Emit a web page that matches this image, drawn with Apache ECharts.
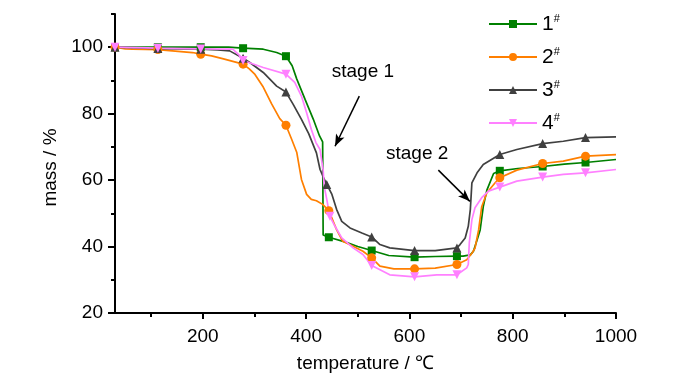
<!DOCTYPE html>
<html><head><meta charset="utf-8">
<script src="https://cdn.jsdelivr.net/npm/echarts@6/dist/echarts.min.js"></script>
<style>html,body{margin:0;padding:0;background:#fff}#c{width:700px;height:373px}</style>
</head><body><div id="c"></div>
<script>
const seriesNames = ['1#', '2#', '3#', '4#'];
const markerTemps = [30, 113, 196, 278, 361, 444, 527, 610, 692, 775, 858, 941];

const temp1 = [30,113,196,250,278,317,343,361,373,382,398,414,426,432,433,444,475,500,527,560,610,650,692,704,718,724,731,737,743,750,763,775,810,858,900,941,1000];
const mass1 = [100,100,100,100,99.7,99.4,98.4,97.3,94.4,90.4,84.3,78.3,73.3,71.5,43.5,42.8,41.4,40,38.8,37.3,36.8,37,37.1,37.1,37.5,38.6,42,45,52,57,62,62.8,63.5,64.1,64.8,65.3,66.2];

const temp2 = [30,50,64,113,180,196,217,240,278,290,301,317,333,349,361,372,382,391,401,410,420,432,444,459,471,491,510,527,543,570,610,650,692,711,721,727,734,740,750,766,775,808,858,898,941,1000];
const mass2 = [100,99.5,99.4,99.3,98.4,97.9,97.4,96.5,94.9,93.5,91.8,88,83,78.5,76.5,72.3,68.3,60.2,55.7,54.2,53.8,52.7,50.8,45.1,41.6,40.1,38.6,36.6,34.1,33.3,33.3,33.5,34.6,36,38,39.5,45,52,56.2,59.2,60.7,63,65,65.7,67.2,67.7];

const temp3 = [30,113,196,229,252,278,291,317,343,361,375,391,405,420,427,433,440,450,459,469,485,508,527,543,562,610,650,692,698,708,714,718,721,731,743,775,808,858,898,941,1000];
const mass3 = [100,99.6,99.4,99.2,98.9,96.7,95.4,92.4,88.3,86.5,82.8,78.3,74,68.2,63.2,61,58.7,55.7,51.2,47.6,45.6,44.1,42.9,40.6,39.6,38.8,38.8,39.6,40.6,42.6,46.1,51.2,59.2,62.2,64.7,67.7,69.2,71,71.7,72.8,73];

const temp4 = [30,113,196,258,272,278,317,361,378,391,401,410,419,427,433,435,440,446,456,469,491,510,527,562,610,653,692,711,714,716,721,727,740,753,775,808,858,898,941,1000];
const mass4 = [100,99.7,99.5,99.4,97.4,96,93.9,91.9,89.4,85.3,80.3,75.3,71.3,69.2,63,58.2,54.2,49.1,46.1,42.6,39.6,37.6,34.3,31.5,30.9,31.5,31.5,33.6,34.6,41.2,48.1,51.7,54.7,56.7,57.9,59.7,60.9,61.7,62.2,63.2];

const xMajorTicks = [200, 400, 600, 800, 1000];
const xMinorTicks = [100, 300, 500, 700, 900];
const yMajorTicks = [20, 40, 60, 80, 100];
const yMinorTicks = [30, 50, 70, 90, 110];

const annotLabels = ['stage 1', 'stage 2'];

const FONT = '"Liberation Sans", Arial, sans-serif';

function build(temps, masses) {
  const markIdx = new Set(markerTemps.map(mt => {
    let best = 0;
    temps.forEach((t, i) => { if (Math.abs(t - mt) < Math.abs(temps[best] - mt)) best = i; });
    return best;
  }));
  return temps.map((t, i) => markIdx.has(i) ? { value: [t, masses[i]] } : { value: [t, masses[i]], symbol: 'none' });
}

const styles = [
  { color: '#008000', symbol: 'rect', size: 8, rot: 0 },
  { color: '#ff7f00', symbol: 'circle', size: 9, rot: 0 },
  { color: '#404040', symbol: 'triangle', size: 9, rot: 0 },
  { color: '#ff80ff', symbol: 'triangle', size: 9, rot: 180 }
];
const allData = [build(temp1, mass1), build(temp2, mass2), build(temp3, mass3), build(temp4, mass4)];

const series = seriesNames.map((n, k) => ({
  name: n, type: 'line', data: allData[k], xAxisIndex: 0, yAxisIndex: 0,
  symbol: styles[k].symbol, symbolSize: styles[k].size, symbolRotate: styles[k].rot,
  showSymbol: true, showAllSymbol: true, clip: false,
  lineStyle: { color: styles[k].color, width: 1.7 },
  itemStyle: { color: styles[k].color },
  emphasis: { disabled: true }
}));

series.push({
  name: 'annot', type: 'line', data: [], xAxisIndex: 0, yAxisIndex: 0,
  markLine: {
    silent: true, symbol: ['none', 'arrow'], symbolSize: [7, 12],
    lineStyle: { color: '#000', width: 1.5, type: 'solid' },
    label: { show: false },
    data: [
      [{ coord: [503, 85.3] }, { coord: [456, 70.2] }],
      [{ coord: [656, 63] }, { coord: [717, 53.6] }]
    ]
  },
  markPoint: {
    silent: true, symbol: 'circle', symbolSize: 2,
    itemStyle: { color: 'rgba(0,0,0,0)' },
    label: { show: true, position: 'inside', formatter: '{b}', color: '#000', fontSize: 19, fontFamily: FONT, opacity: 1 },
    data: [
      { name: annotLabels[0], coord: [510, 92.5] },
      { name: annotLabels[1], coord: [615, 68] }
    ]
  }
});

const option = {
  animation: false,
  backgroundColor: '#fff',
  grid: { left: 115, right: 84, top: 14, bottom: 60, containLabel: false, outerBoundsMode: 'none' },
  legend: {
    data: seriesNames, orient: 'vertical', left: 483, top: 8,
    itemWidth: 48, itemHeight: 10, itemGap: 11.5,
    textStyle: {
      color: '#000', fontFamily: FONT, fontSize: 21,
      rich: { n: { fontSize: 21, fontFamily: FONT, color: '#000', lineHeight: 22 },
              s: { fontSize: 11, fontFamily: FONT, color: '#000', verticalAlign: 'top', lineHeight: 22 } }
    },
    formatter: n => '{n|' + n.replace('#', '') + '}{s|#}'
  },
  xAxis: [
    {
      type: 'value', min: 30, max: 1000, position: 'bottom', splitLine: { show: false },
      axisLine: { show: true, onZero: false, lineStyle: { color: '#000', width: 2 } },
      axisTick: { show: true, length: 6, customValues: xMajorTicks, lineStyle: { color: '#000', width: 2 } },
      axisLabel: { customValues: xMajorTicks, formatter: v => String(v), color: '#000', fontSize: 19, fontFamily: FONT, margin: 14 },
      name: 'temperature / ℃', nameLocation: 'middle', nameGap: 41,
      nameTextStyle: { color: '#000', fontSize: 19, fontFamily: FONT }
    },
    {
      type: 'value', min: 30, max: 1000, position: 'bottom', splitLine: { show: false },
      axisLine: { show: false, onZero: false },
      axisTick: { show: true, length: 4, customValues: xMinorTicks, lineStyle: { color: '#000', width: 2 } },
      axisLabel: { show: false }
    }
  ],
  yAxis: [
    {
      type: 'value', min: 20, max: 110, position: 'left', splitLine: { show: false },
      axisLine: { show: true, onZero: false, lineStyle: { color: '#000', width: 2 } },
      axisTick: { show: true, length: 7, customValues: yMajorTicks, lineStyle: { color: '#000', width: 2 } },
      axisLabel: { customValues: yMajorTicks, formatter: v => String(v), color: '#000', fontSize: 19, fontFamily: FONT, margin: 12 },
      name: 'mass / %', nameLocation: 'middle', nameGap: 48, nameRotate: 90,
      nameTextStyle: { color: '#000', fontSize: 19, fontFamily: FONT, padding: [0, 8, 0, 0] }
    },
    {
      type: 'value', min: 20, max: 110, position: 'left', splitLine: { show: false },
      axisLine: { show: false, onZero: false },
      axisTick: { show: true, length: 4, customValues: yMinorTicks, lineStyle: { color: '#000', width: 2 } },
      axisLabel: { show: false }
    }
  ],
  series: series
};

const chart = echarts.init(document.getElementById('c'), null, { renderer: 'canvas' });
chart.setOption(option);
</script>
</body></html>
